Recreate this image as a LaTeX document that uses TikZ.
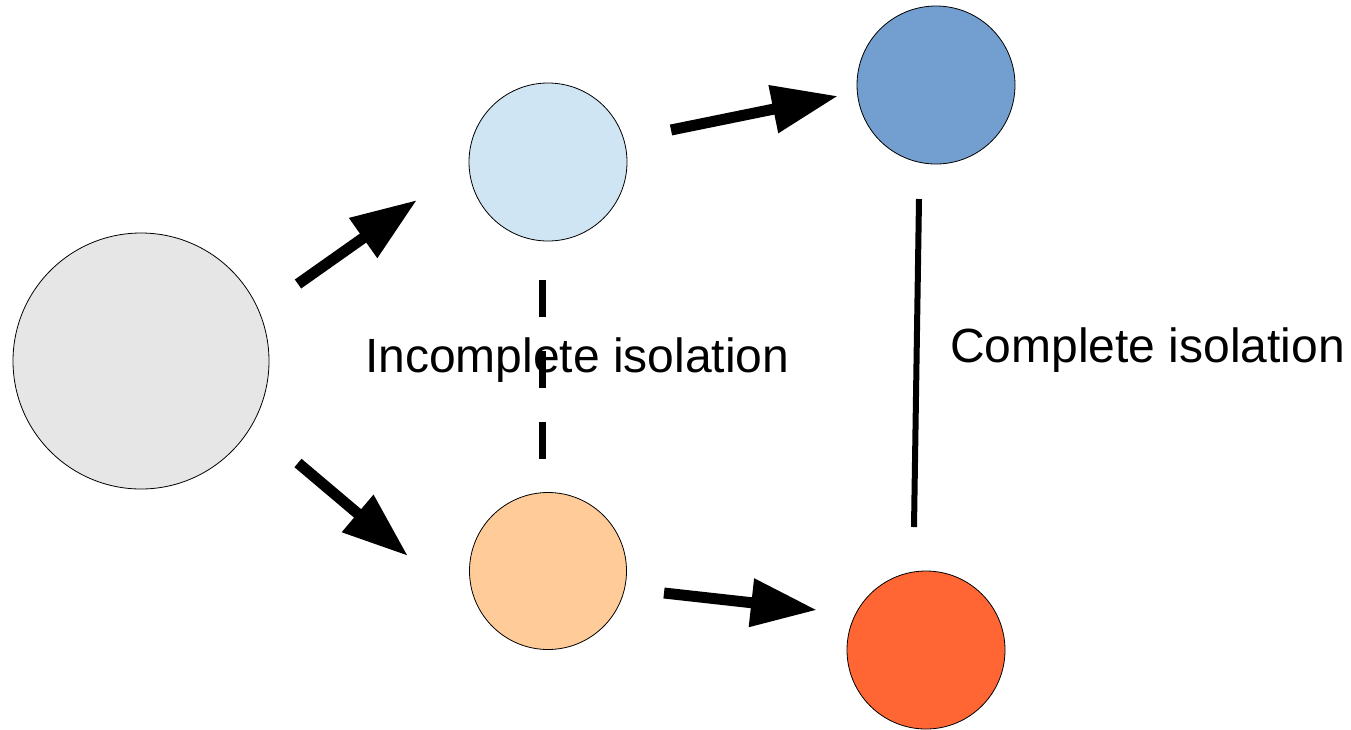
\documentclass[tikz,border=0pt]{standalone}
\usepackage{fontspec}
\setmainfont{Liberation Sans}
\usetikzlibrary{arrows.meta,calc}
\definecolor{cgray}{HTML}{E6E6E6}
\definecolor{clblue}{HTML}{CFE5F3}
\definecolor{cdblue}{HTML}{729FCF}
\definecolor{clorange}{HTML}{FFCC99}
\definecolor{cred}{HTML}{FF6633}
\tikzset{
  ball/.style={circle, draw=black, line width=0.8pt, inner sep=0pt},
  bigarrow/.style={line width=11pt, -{Triangle[length=66pt,width=46pt]}},
  lab/.style={font=\fontsize{48}{57}\selectfont, anchor=base west, inner sep=0pt},
}
\begin{document}
\begin{tikzpicture}[x=1pt,y=-1pt]
\useasboundingbox (0,0) rectangle (1351,729);
\node[ball, fill=cgray, minimum size=256pt] (g) at (141,361) {};
\node[ball, fill=clblue, minimum size=158pt] (lb) at (548,162) {};
\node[ball, fill=cdblue, minimum size=158pt] (db) at (936,85) {};
\node[ball, fill=clorange, minimum size=157pt] (lo) at (548,571) {};
\node[ball, fill=cred, minimum size=158pt] (rd) at (926,650) {};
% arrow end points, relative to their nodes
\coordinate (a1s) at ($(g)+(157,-77)$);
\coordinate (a1e) at ($(lb)+(-131,38)$);
\coordinate (a2s) at ($(g)+(157,102)$);
\coordinate (a2e) at ($(lo)+(-140,-15)$);
\coordinate (a3s) at ($(lb)+(123,-32)$);
\coordinate (a3e) at ($(db)+(-98,11)$);
\coordinate (a4s) at ($(lo)+(116,22)$);
\coordinate (a4e) at ($(rd)+(-109,-40)$);
\draw[bigarrow] (a1s) -- (a1e);
\draw[bigarrow] (a2s) -- (a2e);
\draw[bigarrow] (a3s) -- (a3e);
\draw[bigarrow] (a4s) -- (a4e);
% isolation lines
\coordinate (d1) at ($(lb)+(-6,118)$);
\coordinate (d2) at ($(lo)+(-6,-111)$);
\draw[line width=7pt, dash pattern=on 37pt off 34pt] (d1) -- (d2);
\coordinate (s1) at ($(db)+(-17,114)$);
\coordinate (s2) at ($(rd)+(-12,-123)$);
\draw[line width=6pt] (s1) -- (s2);
\node[lab] (t1) at (365,372) {Incomplete isolation};
\node[lab] (t2) at (950,362) {Complete isolation};
\end{tikzpicture}
\end{document}
